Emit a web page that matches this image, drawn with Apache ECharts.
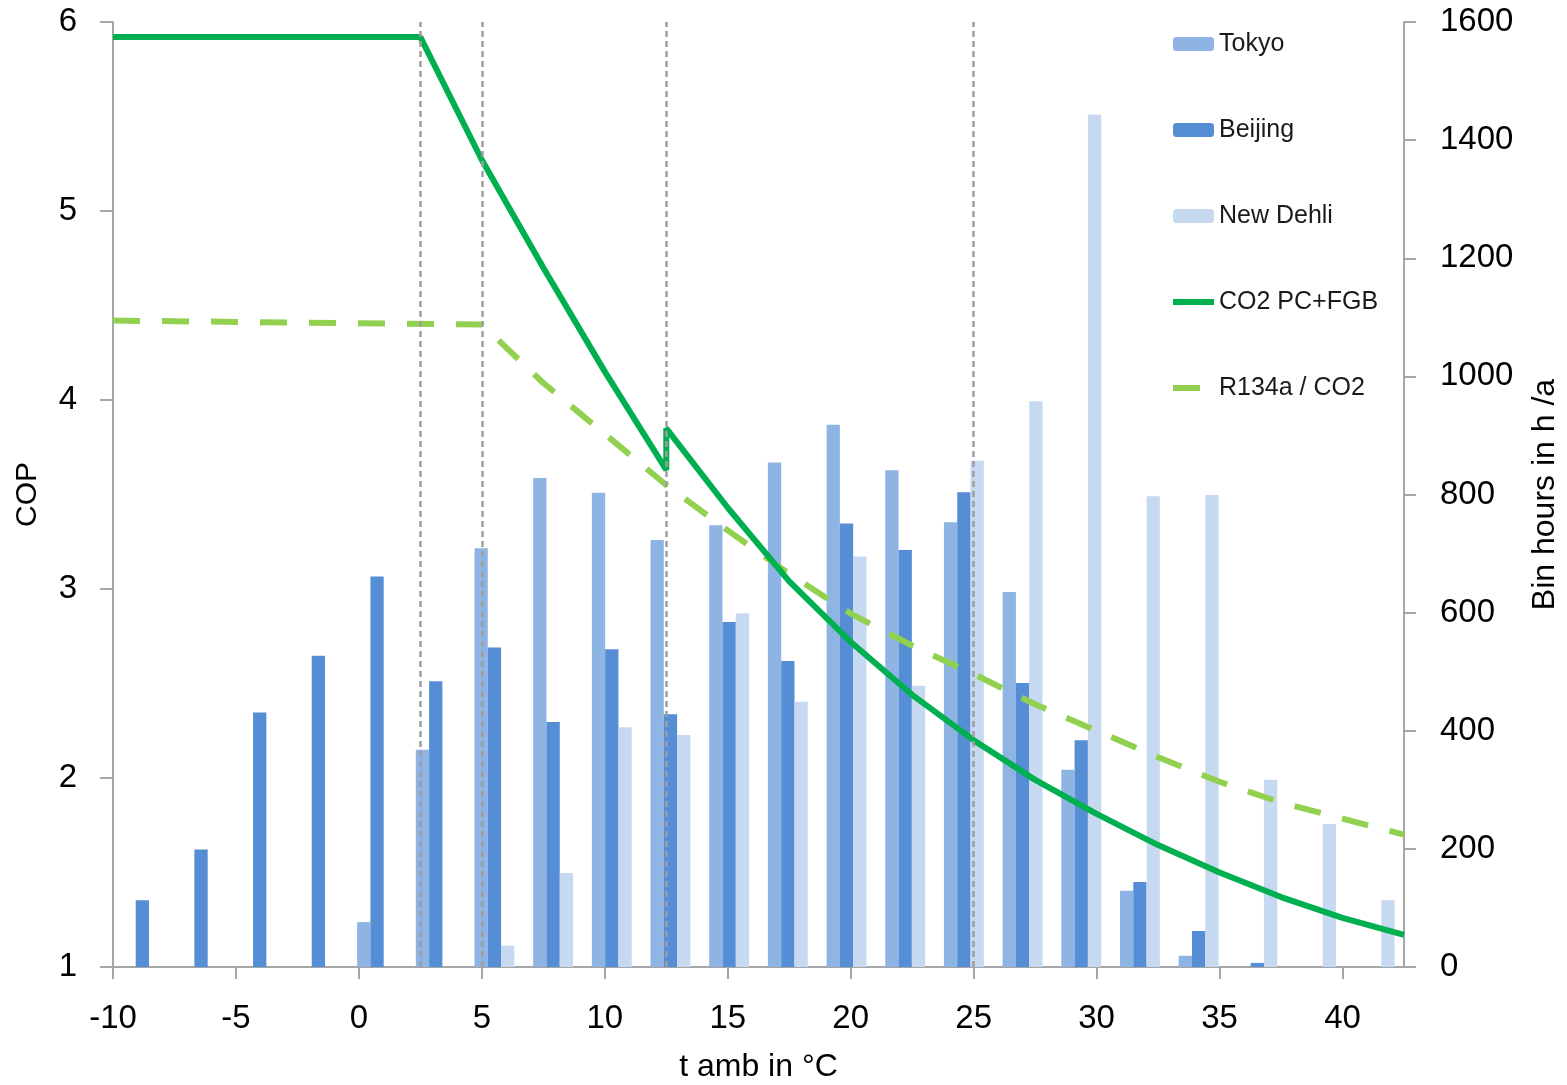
<!DOCTYPE html>
<html>
<head>
<meta charset="utf-8">
<script src="https://cdn.jsdelivr.net/npm/echarts@6/dist/echarts.min.js"></script>
<style>
html,body{margin:0;padding:0;background:#fff;}
#chart{width:1567px;height:1085px;}
</style>
</head>
<body>
<div id="chart"></div>
<script>
// Bin categories (2.5 K wide bins, start temperature)
var binCats = ['-10','-7.5','-5','-2.5','0','2.5','5','7.5','10','12.5','15','17.5','20','22.5','25','27.5','30','32.5','35','37.5','40','42.5'];
// Bin hours in h/a
var tokyo   = [0,0,0,0,76,368,709,828,803,723,748,854,918,841,753,635,334,129,19,0,0,0];
var beijing = [113,199,431,527,661,484,541,415,538,428,584,518,751,706,804,481,384,144,61,7,0,0];
var delhi   = [0,0,0,0,0,0,36,159,406,393,599,449,695,476,857,958,1443,797,799,317,242,113];
// COP curves
var co2X = [-10, 2.5, 5, 7.5, 10, 12.5, 12.5, 15, 17.5, 20, 22.5, 25, 27.5, 30, 32.5, 35, 37.5, 40, 42.5];
var co2Y = [5.92, 5.92, 5.27, 4.70, 4.15, 3.63, 3.85, 3.43, 3.04, 2.72, 2.44, 2.20, 1.99, 1.81, 1.645, 1.50, 1.37, 1.26, 1.17];
var r134X = [-10, 5, 7.5, 10, 12.5, 15, 17.5, 20, 22.5, 25, 27.5, 30, 32.5, 35, 37.5, 40, 42.5];
var r134Y = [4.42, 4.40, 4.09, 3.82, 3.55, 3.31, 3.08, 2.87, 2.70, 2.55, 2.39, 2.25, 2.11, 1.98, 1.87, 1.785, 1.70];
// vertical guide lines
var guideX = [2.5, 5, 12.5, 25];

function pairs(xs, ys){ return xs.map(function(x,i){ return [x, ys[i]]; }); }

var axisGray = '#A6A6A6';
var tickFont = {fontFamily:'Liberation Sans', fontSize:33, color:'#000'};

var chart = echarts.init(document.getElementById('chart'), null, {renderer:'canvas'});
chart.setOption({
  backgroundColor:'#fff',
  animation:false,
  grid:{left:113, right:163, top:22, bottom:118, containLabel:false, outerBoundsMode:'none'},
  legend:{
    orient:'vertical', left:1165, top:26,
    itemWidth:41, itemHeight:14, itemGap:60,
    textStyle:{fontFamily:'Liberation Sans', fontSize:25, color:'#1a1a1a', lineHeight:26},
    data:[
      {name:'Tokyo'},
      {name:'Beijing'},
      {name:'New Dehli'},
      {name:'CO2 PC+FGB', itemStyle:{opacity:0}, lineStyle:{width:6}},
      {name:'R134a / CO2', itemStyle:{opacity:0}, lineStyle:{width:6}}
    ]
  },
  xAxis:[
    {type:'value', min:-10, max:42.5, interval:5, position:'bottom',
     name:'t amb in °C', nameLocation:'middle', nameGap:84,
     nameTextStyle:{fontFamily:'Liberation Sans', fontSize:32, color:'#000'},
     axisLine:{show:true, onZero:false, lineStyle:{color:axisGray, width:2}},
     axisTick:{show:true, inside:false, length:12, lineStyle:{color:axisGray, width:2}},
     axisLabel:Object.assign({margin:35, showMaxLabel:false}, tickFont),
     splitLine:{show:false}},
    {type:'category', data:binCats, show:false, boundaryGap:true}
  ],
  yAxis:[
    {type:'value', min:1, max:6, interval:1, position:'left',
     name:'COP', nameLocation:'middle', nameGap:70, nameRotate:90,
     nameTextStyle:{fontFamily:'Liberation Sans', fontSize:30, color:'#000'},
     axisLine:{show:true, onZero:false, lineStyle:{color:axisGray, width:2}},
     axisTick:{show:true, length:13, lineStyle:{color:axisGray, width:2}},
     axisLabel:Object.assign({margin:36}, tickFont),
     splitLine:{show:false}},
    {type:'value', min:0, max:1600, interval:200, position:'right',
     name:'Bin hours in h /a', nameLocation:'middle', nameGap:125, nameRotate:90,
     nameTextStyle:{fontFamily:'Liberation Sans', fontSize:32, color:'#000'},
     axisLine:{show:true, onZero:false, lineStyle:{color:axisGray, width:2}},
     axisTick:{show:true, length:12, lineStyle:{color:axisGray, width:2}},
     axisLabel:Object.assign({margin:36, formatter:function(v){ return String(v); }}, tickFont),
     splitLine:{show:false}}
  ],
  series:[
    {name:'Tokyo', type:'bar', xAxisIndex:1, yAxisIndex:1, data:tokyo, barWidth:13.3, barGap:'0%',
     itemStyle:{color:'#8EB4E3'}, z:2},
    {name:'Beijing', type:'bar', xAxisIndex:1, yAxisIndex:1, data:beijing, barWidth:13.3, barGap:'0%',
     itemStyle:{color:'#558ED5'}, z:2},
    {name:'New Dehli', type:'bar', xAxisIndex:1, yAxisIndex:1, data:delhi, barWidth:13.3, barGap:'0%',
     itemStyle:{color:'#C6D9F1'}, z:2},
    {name:'CO2 PC+FGB', type:'line', xAxisIndex:0, yAxisIndex:0, data:pairs(co2X, co2Y),
     symbol:'none', smooth:false, lineStyle:{color:'#00B050', width:6}, itemStyle:{color:'#00B050'}, z:4},
    {name:'R134a / CO2', type:'line', xAxisIndex:0, yAxisIndex:0, data:pairs(r134X, r134Y),
     symbol:'none', smooth:false, lineStyle:{color:'#92D050', width:6, type:[27,22]}, itemStyle:{color:'#92D050'}, z:3},
    {name:'guides', type:'line', xAxisIndex:0, yAxisIndex:0, data:[], symbol:'none', z:10,
     markLine:{silent:true, symbol:['none','none'], label:{show:false}, animation:false,
       lineStyle:{color:'#9E9E9E', width:2.5, type:[6,4]},
       data:guideX.map(function(v){ return {xAxis:v}; })}}
  ]
});
</script>
</body>
</html>
